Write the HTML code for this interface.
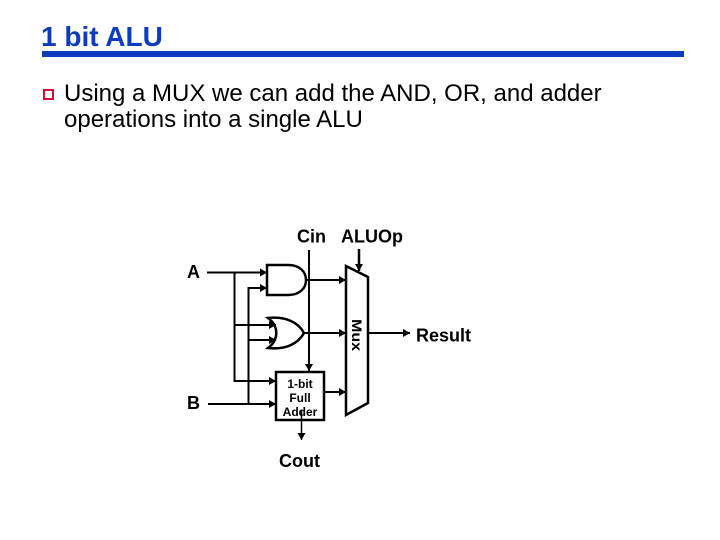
<!DOCTYPE html>
<html><head><meta charset="utf-8"><style>
html,body{margin:0;padding:0;background:#fff}
svg{display:block}
text{font-family:"Liberation Sans",sans-serif}
</style></head><body>
<svg width="720" height="540" viewBox="0 0 720 540" xmlns="http://www.w3.org/2000/svg">
<defs><marker id="a" markerUnits="userSpaceOnUse" markerWidth="8" markerHeight="8" refX="7" refY="4" orient="auto"><path d="M0 0L7 4L0 8Z" fill="#000"/></marker></defs>
<rect width="720" height="540" fill="#fff"/>
<text x="41" y="46" font-size="28" font-weight="bold" fill="#0d3cc0">1 bit ALU</text>
<rect x="42" y="51" width="642" height="6" fill="#0d3cc0"/>
<rect x="44" y="90" width="9" height="9" fill="#fff" stroke="#c8103c" stroke-width="2"/>
<text x="64" y="101" font-size="24">Using a MUX we can add the AND, OR, and adder</text>
<text x="64" y="127" font-size="24">operations into a single ALU</text>
<g font-size="18" font-weight="bold">
<text x="297" y="242.500">Cin</text><text x="341" y="242.500">ALUOp</text>
<text x="187" y="278">A</text><text x="187" y="409">B</text>
<text x="416" y="341.500">Result</text><text x="279" y="467">Cout</text>
</g>
<g fill="none" stroke="#000" stroke-width="2">
<path d="M207 272.500H267" marker-end="url(#a)"/>
<path d="M234.500 272.500V381H276" marker-end="url(#a)"/>
<path d="M208 404H276" marker-end="url(#a)"/>
<path d="M248.500 404V288H267" marker-end="url(#a)"/>
<path d="M309 250V371" marker-end="url(#a)"/>
<path d="M306 280H346" marker-end="url(#a)"/>
<path d="M304 333H346" marker-end="url(#a)"/>
<path d="M324 392H346" marker-end="url(#a)"/>
<path d="M368 333H410" marker-end="url(#a)"/>
<path d="M359 249V271" stroke-width="2.500" marker-end="url(#a)"/>
</g>
<g fill="#fff" stroke="#000" stroke-width="2.500">
<path d="M267 265H288C300 265 306 272 306 280C306 288 300 295 288 295H267Z"/>
<path d="M268 318C285 316 298 322 304 333C298 344 285 350 268 348C279 340 279 326 268 318Z"/>
<rect x="276" y="372" width="48" height="48"/>
<path d="M346 266L368 277V403L346 415Z"/>
</g>
<g fill="none" stroke="#000" stroke-width="2">
<path d="M234.500 325H276" marker-end="url(#a)"/>
<path d="M248.500 340H276" marker-end="url(#a)"/>
</g>
<g font-size="12" font-weight="bold" text-anchor="middle">
<text x="300" y="388">1-bit</text><text x="300" y="402">Full</text><text x="300" y="416">Adder</text>
</g>
<path d="M301.500 410V440" stroke="#000" stroke-width="1.500" fill="none" marker-end="url(#a)"/>
<text transform="translate(352,319) rotate(90)" font-size="14" font-weight="bold" textLength="32" lengthAdjust="spacingAndGlyphs">Mux</text>
</svg>
</body></html>
